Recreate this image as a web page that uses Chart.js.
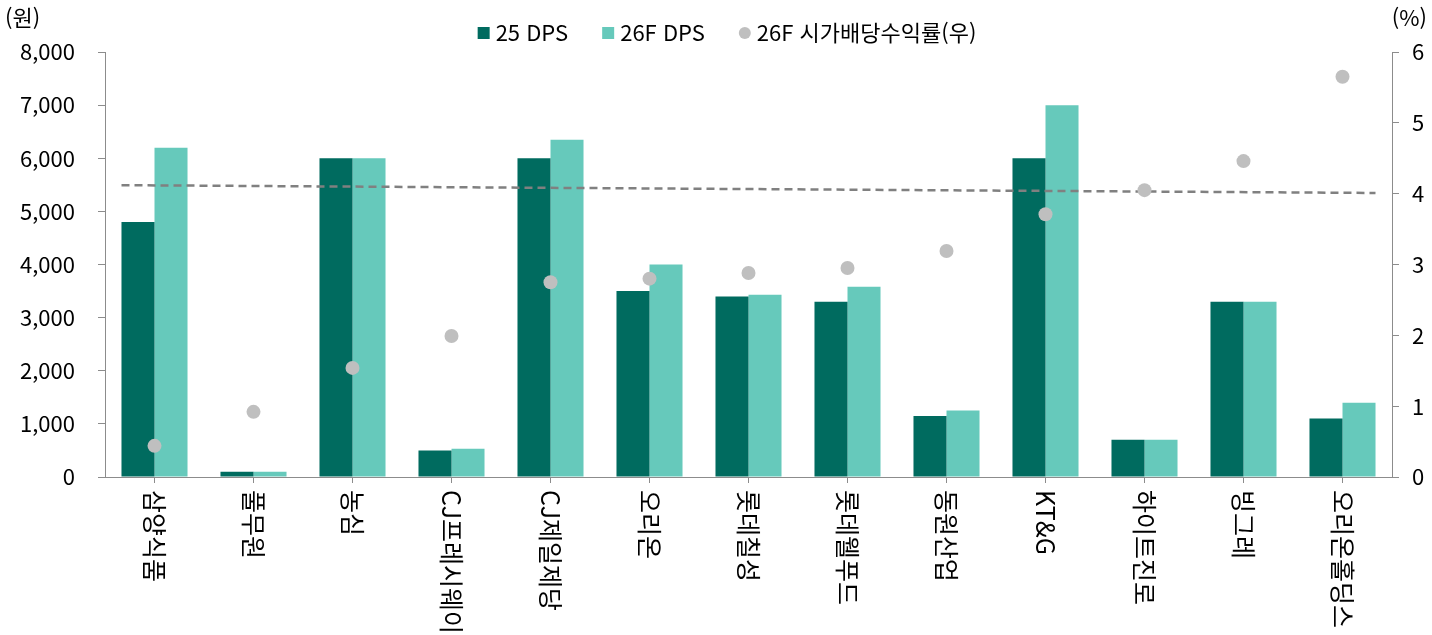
<!DOCTYPE html>
<html lang="ko">
  <head>
    <meta charset="UTF-8" />
    <title>DPS 및 시가배당수익률</title>
    <style>
      html, body { margin: 0; padding: 0; background: #fff; }
      #wrap { width: 1432px; height: 635px; }
    </style>
  </head>
  <body>
    <div id="wrap"><canvas id="chartDps" width="1432" height="635"></canvas></div>

    <script src="https://cdn.jsdelivr.net/npm/chart.js"></script>
    <script>
      // 데이터
      var companies = ['삼양식품', '풀무원', '농심', 'CJ프레시웨이', 'CJ제일제당', '오리온', '롯데칠성',
                       '롯데웰푸드', '동원산업', 'KT&G', '하이트진로', '빙그레', '오리온홀딩스'];
      var dps25 = [4800, 100, 6000, 500, 6000, 3500, 3400, 3300, 1150, 6000, 700, 3300, 1100];
      var dps26 = [6200, 100, 6000, 530, 6350, 4000, 3430, 3580, 1250, 7000, 700, 3300, 1400];
      var yield26 = [0.44, 0.92, 1.54, 1.99, 2.75, 2.80, 2.88, 2.95, 3.19, 3.71, 4.05, 4.46, 5.65];
      // 점선 (평균선) 시작/끝 값 (x는 종목 순번 기준)
      var trendX = [-1 / 3, 12 + 1 / 3];
      var trendY = [4.12, 4.01];
      var leftTicks = [0, 1000, 2000, 3000, 4000, 5000, 6000, 7000, 8000];
      var rightTicks = [0, 1, 2, 3, 4, 5, 6];

      var FONT = "'Noto Sans CJK KR', 'Noto Sans', sans-serif";
      var DARK = '#006B5F';
      var LIGHT = '#66C9BB';
      var DOT = '#BFBFBF';
      var AXIS = '#8C8C8C';

      function pts(arr) {
        return arr.map(function (v, i) { return { x: i, y: v }; });
      }

      // 범주 라벨 (위에서 아래로 세로 표기), 단위, 범례
      var extraText = {
        id: 'extraText',
        afterDraw: function (chart) {
          var ctx = chart.ctx;
          var xs = chart.scales.x;
          ctx.save();
          ctx.fillStyle = '#000';
          ctx.font = '25px ' + FONT;
          ctx.textBaseline = 'middle';
          ctx.textAlign = 'left';
          companies.forEach(function (name, i) {
            ctx.save();
            ctx.translate(xs.getPixelForValue(i), xs.top + 13);
            ctx.rotate(Math.PI / 2);
            ctx.fillText(name, 0, 0);
            ctx.restore();
          });

          // 단위
          ctx.font = '22px ' + FONT;
          ctx.fillText('(원)', 5, 18);
          ctx.textAlign = 'right';
          ctx.fillText('(%)', 1427, 18);

          // 범례
          ctx.font = '22px ' + FONT;
          ctx.textAlign = 'left';
          var items = chart.data.datasets.filter(function (d) { return d.legend; });
          var gapMark = 6, gapItem = 34, mark = 12, total = 0;
          items.forEach(function (d, i) {
            total += mark + gapMark + ctx.measureText(d.label).width + (i ? gapItem : 0);
          });
          var x = 727 - total / 2, y = 33;
          items.forEach(function (d) {
            if (d.legend === 'circle') {
              ctx.fillStyle = DOT;
              ctx.beginPath();
              ctx.arc(x + mark / 2, y, 6, 0, Math.PI * 2);
              ctx.fill();
            } else {
              ctx.fillStyle = d.backgroundColor;
              ctx.fillRect(x, y - mark / 2, mark, mark);
            }
            x += mark + gapMark;
            ctx.fillStyle = '#000';
            ctx.fillText(d.label, x, y);
            x += ctx.measureText(d.label).width + gapItem;
          });
          ctx.restore();
        }
      };

      var ctxDps = document.getElementById('chartDps').getContext('2d');
      var chartDps = new Chart(ctxDps, {
        type: 'bar',
        data: {
          datasets: [
            {
              type: 'bar',
              label: '25 DPS',
              legend: 'rect',
              data: pts(dps25),
              backgroundColor: DARK,
              categoryPercentage: 0.667,
              barPercentage: 1,
              yAxisID: 'y',
              order: 2
            },
            {
              type: 'bar',
              label: '26F DPS',
              legend: 'rect',
              data: pts(dps26),
              backgroundColor: LIGHT,
              categoryPercentage: 0.667,
              barPercentage: 1,
              yAxisID: 'y',
              order: 2
            },
            {
              type: 'line',
              label: '26F 시가배당수익률(우)',
              legend: 'circle',
              data: pts(yield26),
              showLine: false,
              pointRadius: 7,
              pointHoverRadius: 7,
              pointBackgroundColor: DOT,
              pointBorderWidth: 0,
              yAxisID: 'y1',
              order: 0
            },
            {
              type: 'line',
              label: 'trend',
              data: trendX.map(function (v, i) { return { x: v, y: trendY[i] }; }),
              borderColor: '#808080',
              borderWidth: 2.5,
              borderDash: [8, 5],
              pointRadius: 0,
              yAxisID: 'y1',
              order: 1
            }
          ]
        },
        options: {
          responsive: false,
          animation: false,
          layout: { padding: { top: 52, left: 0, right: 0, bottom: 0 } },
          plugins: {
            legend: { display: false },
            tooltip: { enabled: false }
          },
          scales: {
            x: {
              type: 'linear',
              offset: false,
              min: -0.5,
              max: companies.length - 0.5,
              afterBuildTicks: function (s) {
                s.ticks = companies.concat(['']).map(function (c, i) { return { value: i - 0.5 }; });
              },
              grid: { drawOnChartArea: false, drawTicks: true, tickLength: 6, color: AXIS },
              border: { color: AXIS },
              ticks: { display: false },
              afterFit: function (s) { s.height = 158; }
            },
            y: {
              position: 'left',
              min: leftTicks[0],
              max: leftTicks[leftTicks.length - 1],
              afterBuildTicks: function (s) { s.ticks = leftTicks.map(function (v) { return { value: v }; }); },
              grid: { drawOnChartArea: false, tickLength: 7, color: AXIS },
              border: { color: AXIS },
              ticks: {
                padding: 23,
                color: '#000',
                font: { family: FONT, size: 22 },
                callback: function (v) { return v.toLocaleString('en-US'); }
              },
              afterFit: function (s) { s.width = 105; }
            },
            y1: {
              position: 'right',
              min: rightTicks[0],
              max: rightTicks[rightTicks.length - 1],
              afterBuildTicks: function (s) { s.ticks = rightTicks.map(function (v) { return { value: v }; }); },
              grid: { drawOnChartArea: false, tickLength: 7, color: AXIS },
              border: { color: AXIS },
              ticks: {
                padding: 13,
                color: '#000',
                font: { family: FONT, size: 22 }
              },
              afterFit: function (s) { s.width = 40; }
            }
          }
        },
        plugins: [extraText]
      });
    </script>
  </body>
</html>
